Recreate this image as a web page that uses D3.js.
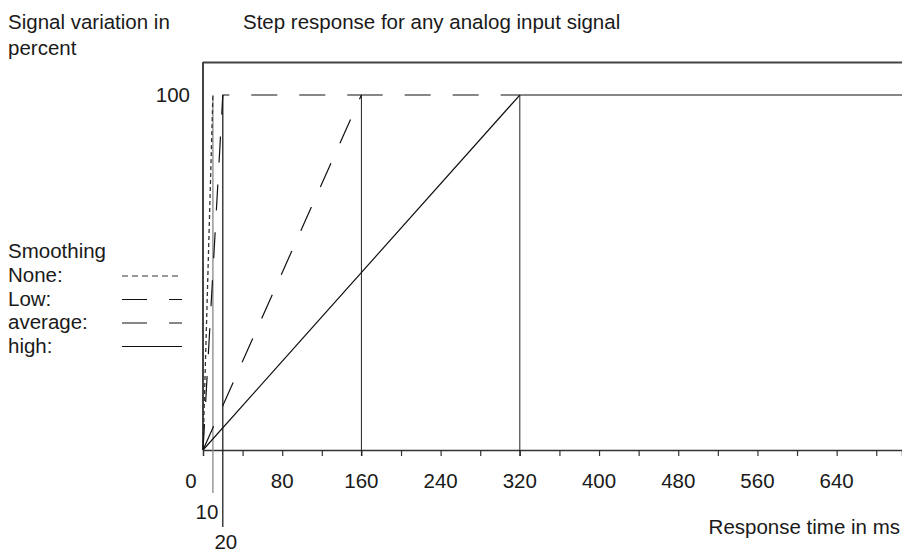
<!DOCTYPE html>
<html><head><meta charset="utf-8">
<script src="https://cdn.jsdelivr.net/npm/d3@7"></script>
<style>
html,body{margin:0;padding:0;background:#fff;}
svg text{font-family:"Liberation Sans",Arial,sans-serif;font-size:20.5px;fill:#1a1a1a;}
</style></head>
<body><svg id="c" width="902" height="554"></svg>
<script>
// ---- data ----
const smoothingLabels = ["None:", "Low:", "average:", "high:"];
const rampEnd = [10, 20, 160, 320];          // ms to reach 100 %
const xTickValues = [0, 80, 160, 240, 320, 400, 480, 560, 640];
const minorTicks = [40,80,120,160,200,240,280,320,360,400,440,480,520,560,600,640,680];
const markerLabels = [10, 20];
const yTickValues = [100];
const title = "Step response for any analog input signal";
const yTitle = ["Signal variation in", "percent"];
const xTitle = "Response time in ms";

// ---- styles ----
const dash = ["4,3", "26,22", "26,22", null];
const lineColor = ["#333", "#111", "#111", "#111"];

const svg = d3.select("#c");
const x = d3.scaleLinear().domain([0, 706]).range([203, 902]);
const y = d3.scaleLinear().domain([0, 100]).range([450, 95]);

// frame
svg.append("line").attr("x1", x(0)).attr("x2", 902).attr("y1", 62.5).attr("y2", 62.5)
  .attr("stroke", "#444").attr("stroke-width", 2);
svg.append("line").attr("x1", x(0)).attr("x2", x(0)).attr("y1", 62).attr("y2", y(0))
  .attr("stroke", "#444").attr("stroke-width", 2);

// x axis
const xAxis = d3.axisBottom(x).tickValues(minorTicks).tickSize(6).tickFormat("");
const gx = svg.append("g").attr("transform", `translate(0,${y(0)})`).call(xAxis);
gx.select(".domain").attr("stroke", "#333").attr("stroke-width", 1.5);
gx.selectAll(".tick line").attr("stroke", "#333").attr("stroke-width", 1.2);

// tick labels
svg.selectAll("text.xl").data(xTickValues).enter().append("text")
  .attr("class", "xl")
  .attr("x", d => d === 0 ? x(0) - 12 : x(d))
  .attr("y", 488)
  .attr("text-anchor", "middle")
  .text(d => d);

// vertical markers
const markerBottom = {10: 493, 20: 527, 160: 456, 320: 456};
svg.selectAll("line.mk").data(rampEnd).enter().append("line")
  .attr("x1", d => x(d)).attr("x2", d => x(d))
  .attr("y1", y(100)).attr("y2", d => markerBottom[d])
  .attr("stroke", d => d === 10 ? "#888" : "#222")
  .attr("stroke-width", d => d <= 20 ? 1.3 : 1);

svg.selectAll("text.mkl").data(markerLabels).enter().append("text")
  .attr("x", d => d === 10 ? x(d) - 6 : x(d) + 3)
  .attr("y", d => d === 10 ? 519 : 549)
  .attr("text-anchor", "middle")
  .text(d => d);

// step response lines (each visible until the next, slower one takes over)
const line = d3.line().x(d => x(d[0])).y(d => y(d[1]));
rampEnd.forEach((t, i) => {
  const end = i === rampEnd.length - 1 ? 706 : rampEnd[i + 1];
  const pts = i === 0 ? [[0,0],[t,100]] : [[0,0],[t,100],[end,100]];
  svg.append("path").attr("d", line(pts)).attr("fill", "none")
    .attr("stroke", lineColor[i]).attr("stroke-width", i === 0 ? 1.3 : 1.2)
    .attr("stroke-dasharray", dash[i]);
});

// y tick label
svg.selectAll("text.yl").data(yTickValues).enter().append("text")
  .attr("x", 190).attr("y", d => y(d) + 7).attr("text-anchor", "end").text(d => d);

// titles
svg.append("text").attr("x", 243).attr("y", 29).text(title);
svg.selectAll("text.yt").data(yTitle).enter().append("text")
  .attr("x", 8).attr("y", (d, i) => 29 + i * 26).text(d => d);
svg.append("text").attr("x", 900).attr("y", 534).attr("text-anchor", "end").text(xTitle);

// legend
svg.append("text").attr("x", 8).attr("y", 258).text("Smoothing");
smoothingLabels.forEach((lab, i) => {
  const yy = 282 + i * 23.5;
  svg.append("text").attr("x", 8).attr("y", yy).text(lab);
  svg.append("line").attr("x1", 122).attr("x2", 182).attr("y1", yy - 6).attr("y2", yy - 6)
    .attr("stroke", lineColor[i]).attr("stroke-width", 1.2)
    .attr("stroke-dasharray", dash[i] ? (i === 0 ? "6,4" : "25,22") : null);
});
</script></body></html>
